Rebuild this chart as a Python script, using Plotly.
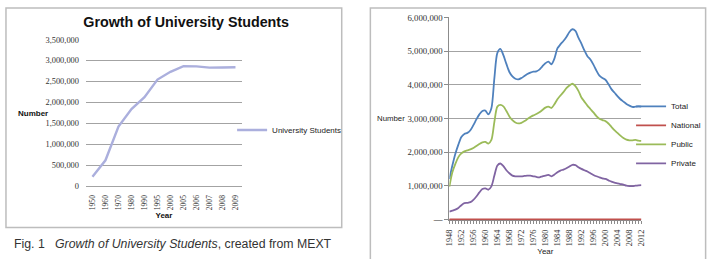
import plotly.graph_objects as go

W, H = 720, 259

# ---------------- Left chart data ----------------
L_YEARS = ["1950", "1960", "1970", "1980", "1990", "1995", "2000",
           "2005", "2006", "2007", "2008", "2009"]
L_STUDENTS = [220000, 615000, 1420000, 1840000, 2125000, 2545000, 2730000,
              2865000, 2860000, 2830000, 2835000, 2840000]
L_YTICKS = [0, 500000, 1000000, 1500000, 2000000, 2500000, 3000000, 3500000]

# ---------------- Right chart data ----------------
R_YEARS = list(range(1948, 2013))
TOTAL = [1200000, 1600000, 1950000, 2220000, 2450000, 2540000, 2570000, 2650000,
         2800000, 2970000, 3120000, 3220000, 3230000, 3120000, 3300000, 4200000,
         4950000, 5070000, 4880000, 4620000, 4380000, 4250000, 4180000, 4160000,
         4200000, 4260000, 4320000, 4360000, 4390000, 4400000, 4450000, 4550000,
         4640000, 4690000, 4610000, 4780000, 5080000, 5200000, 5300000, 5420000,
         5570000, 5650000, 5600000, 5400000, 5220000, 5020000, 4850000, 4750000,
         4600000, 4420000, 4270000, 4200000, 4150000, 4020000, 3870000, 3770000,
         3660000, 3570000, 3500000, 3430000, 3380000, 3340000, 3350000, 3360000,
         3350000]
NATIONAL = [0, 0, 0, 0, 0, 0, 0, 0, 0, 0, 0, 0, 0, 0, 0, 0,
            0, 0, 0, 0, 0, 0, 0, 0, 0, 0, 0, 0, 0, 0, 0, 0,
            0, 0, 0, 0, 0, 0, 0, 0, 0, 0, 0, 0, 0, 0, 0, 0,
            0, 0, 0, 0, 0, 0, 0, 0, 0, 0, 0, 0, 0, 0, 0, 0, 0]
PUBLIC = [970000, 1400000, 1650000, 1850000, 1960000, 2020000, 2050000, 2080000,
          2120000, 2180000, 2240000, 2290000, 2300000, 2250000, 2360000, 2900000,
          3350000, 3400000, 3360000, 3220000, 3060000, 2950000, 2880000, 2850000,
          2870000, 2920000, 2980000, 3040000, 3090000, 3130000, 3180000, 3250000,
          3320000, 3350000, 3310000, 3420000, 3570000, 3680000, 3780000, 3900000,
          3980000, 4030000, 3960000, 3820000, 3620000, 3500000, 3380000, 3280000,
          3180000, 3070000, 2990000, 2950000, 2920000, 2850000, 2750000, 2650000,
          2570000, 2490000, 2420000, 2370000, 2350000, 2350000, 2360000, 2340000,
          2330000]
PRIVATE = [230000, 260000, 290000, 340000, 420000, 480000, 490000, 510000,
           580000, 680000, 800000, 900000, 920000, 880000, 980000, 1300000,
           1600000, 1660000, 1580000, 1460000, 1370000, 1300000, 1280000, 1280000,
           1280000, 1290000, 1300000, 1300000, 1280000, 1260000, 1250000, 1280000,
           1300000, 1320000, 1280000, 1330000, 1400000, 1450000, 1480000, 1520000,
           1570000, 1620000, 1610000, 1550000, 1500000, 1460000, 1420000, 1370000,
           1320000, 1280000, 1250000, 1220000, 1200000, 1160000, 1120000, 1090000,
           1070000, 1050000, 1030000, 1000000, 990000, 990000, 1000000, 1010000,
           1020000]
R_YTICKS = [0, 1000000, 2000000, 3000000, 4000000, 5000000, 6000000]
R_XTICKS = list(range(1948, 2013, 4))

SANS = "Liberation Sans, Arial, sans-serif"
SERIF = "Liberation Serif, Times New Roman, serif"
GRID = "#A3A3A3"
TXT = "#333333"


def px_x(p):
    return p / W


def px_y(p):
    return 1 - p / H


def fmt(v):
    return "{:,}".format(v)


fig = go.Figure()

fig.add_trace(go.Scatter(
    x=L_YEARS, y=L_STUDENTS, mode="lines", name="University Students",
    line=dict(color="#ABAFDD", width=2.4), xaxis="x", yaxis="y",
    legend="legend", showlegend=True))

R_SERIES = [("Total", TOTAL, "#4F81BD"), ("National", NATIONAL, "#C0504D"),
            ("Public", PUBLIC, "#9BBB59"), ("Private", PRIVATE, "#8064A2")]
for name, vals, col in R_SERIES:
    fig.add_trace(go.Scatter(
        x=R_YEARS, y=vals, mode="lines", name=name,
        line=dict(color=col, width=1.8, shape="spline", smoothing=0.8),
        xaxis="x2", yaxis="y2", legend="legend2", showlegend=True))

fig.update_layout(
    width=W, height=H, margin=dict(l=0, r=0, t=0, b=0),
    paper_bgcolor="white", plot_bgcolor="white",
    font=dict(family=SANS, color=TXT, size=8),
    title=dict(text="<b>Growth of University Students</b>",
               font=dict(family=SANS, size=14.3, color="#111111"),
               x=px_x(184.5), xanchor="center", xref="paper",
               y=px_y(17.5), yanchor="middle", yref="paper"),
    xaxis=dict(type="category", domain=[px_x(83), px_x(241)], anchor="y",
               range=[-0.5, len(L_YEARS) - 0.5],
               showgrid=False, showline=True, linecolor=GRID, linewidth=1,
               ticks="", tickangle=-90, ticklabelstandoff=5,
               tickfont=dict(family=SERIF, size=7.6, color=TXT),
               title=dict(text="<b>Year</b>", standoff=3,
                          font=dict(family=SANS, size=8, color="#111111"))),
    yaxis=dict(domain=[px_y(188.3), px_y(36)], anchor="x",
               range=[0, 3500000], tickvals=L_YTICKS,
               ticktext=[fmt(v) for v in L_YTICKS],
               showgrid=True, gridcolor=GRID, gridwidth=1, zeroline=False,
               showline=False, ticks="", ticklabelstandoff=6,
               tickfont=dict(family=SERIF, size=8.4, color=TXT)),
    xaxis2=dict(domain=[px_x(451), px_x(645.5)], anchor="y2",
                range=[1948, 2012], tickvals=R_XTICKS,
                ticktext=[str(v) for v in R_XTICKS],
                showgrid=False, showline=True, linecolor="#8C8C8C", linewidth=1,
                ticks="outside", ticklen=3, tickcolor="#8C8C8C",
                minor=dict(dtick=1, tick0=1948, ticks="outside", ticklen=3,
                           tickcolor="#8C8C8C", showgrid=False),
                tickangle=-90, ticklabelstandoff=2, layer="below traces",
                tickfont=dict(family=SERIF, size=8.3, color=TXT),
                title=dict(text="Year", standoff=3,
                           font=dict(family=SANS, size=8, color="#222222"))),
    yaxis2=dict(domain=[px_y(224), px_y(13)], anchor="x2",
                range=[-30000, 6000000], tickvals=R_YTICKS,
                ticktext=["\u2014"] + [fmt(v) for v in R_YTICKS[1:]],
                showgrid=True, gridcolor=GRID, gridwidth=1, zeroline=False,
                showline=True, linecolor="#8C8C8C", linewidth=1,
                ticks="outside", ticklen=4, tickcolor="#8C8C8C",
                ticklabelstandoff=0, layer="below traces",
                tickfont=dict(family=SERIF, size=8.8, color=TXT)),
    legend=dict(x=px_x(231), xanchor="left", y=px_y(130), yanchor="middle",
                bgcolor="rgba(0,0,0,0)", borderwidth=0,
                font=dict(family=SANS, size=8, color="#222222")),
    legend2=dict(x=px_x(635), xanchor="left", y=px_y(135), yanchor="middle",
                 bgcolor="rgba(0,0,0,0)", borderwidth=0,
                 font=dict(family=SANS, size=8, color="#222222")),
    shapes=[
        dict(type="rect", xref="paper", yref="paper",
             x0=px_x(2), x1=px_x(342), y0=px_y(231.5), y1=px_y(3),
             line=dict(color="#BDBDBD", width=1.5), layer="below"),
        dict(type="rect", xref="paper", yref="paper",
             x0=px_x(371), x1=px_x(710.5), y0=px_y(275), y1=px_y(3),
             line=dict(color="#BDBDBD", width=1.5), layer="below"),
    ],
    annotations=[
        dict(text="<b>Number</b>", xref="paper", yref="paper",
             x=px_x(12), xanchor="left", y=px_y(113), yanchor="middle",
             showarrow=False, font=dict(family=SANS, size=8, color="#111111")),
        dict(text="Number", xref="paper", yref="paper",
             x=px_x(376), xanchor="left", y=px_y(118), yanchor="middle",
             showarrow=False, font=dict(family=SANS, size=7.8, color="#222222")),
        dict(text="Fig. 1\u00a0\u00a0\u00a0<i>Growth of University Students</i>, created from MEXT",
             xref="paper", yref="paper", x=px_x(8), xanchor="bottom" if False else "left",
             y=px_y(258), yanchor="bottom", showarrow=False,
             font=dict(family=SANS, size=12.3, color="#333333")),
    ],
)

fig.write_html("out.html")
